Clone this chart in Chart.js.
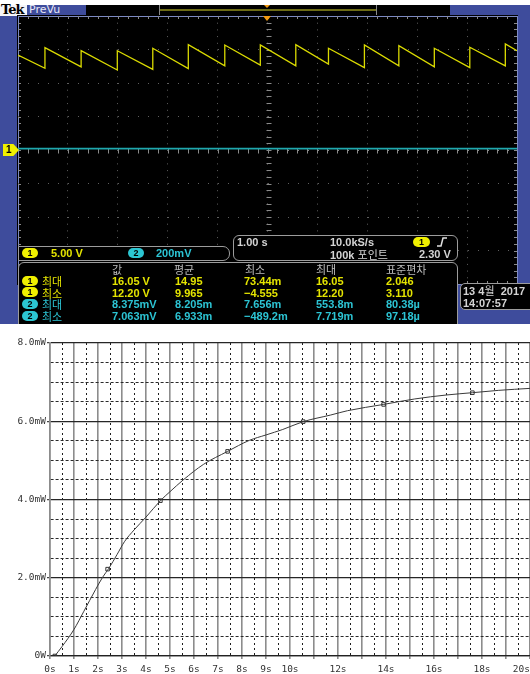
<!DOCTYPE html>
<html lang="ko">
<head>
<meta charset="UTF-8">
<meta name="viewport" content="width=device-width, initial-scale=1.0">
<title>Tek PreVu / 전력 곡선</title>
<script src="https://cdn.jsdelivr.net/npm/chart.js@4.4.1/dist/chart.umd.min.js"></script>
<style>
    body { margin: 0; background: #fff; }
    #page { position: relative; width: 530px; height: 674px; overflow: hidden; }
    #scope { position: absolute; left: 0; top: 0; width: 530px; height: 324px; overflow: hidden; background: #3e4c9c; }
    .box { position: absolute; box-sizing: border-box; }
    .frame { position: absolute; box-sizing: border-box; background: #000; border: 1px solid #9c9c9c; }
    .t { position: absolute; font: bold 11px/12px "Liberation Sans", Arial, sans-serif; white-space: pre; }
    .k { font-family: "Noto Sans CJK KR", sans-serif; font-weight: normal; }
    .y { color: #e4e400; }
    .c { color: #2cc4d4; }
    .g { color: #d4d4d4; }
    .h { color: #bdbdbd; }
    .pill { position: absolute; width: 16px; height: 10px; border-radius: 5px; color: #000; font: bold 9px/10px "Liberation Sans", sans-serif; text-align: center; }
    .py { background: #f0f000; }
    .pc { background: #2cc6d2; }
    .tri { position: absolute; width: 0; height: 0; border-left: 4px solid transparent; border-right: 4px solid transparent; border-top: 5px solid #f39a12; }
    #powerWrap { position: absolute; left: 0; top: 330px; width: 530px; height: 344px; }
</style>
</head>

<body>
<div id="page">
    <div id="scope">
        <!-- top bar -->
        <div class="box" style="left:0;top:0;width:530px;height:5px;background:#fff"></div>
        <div class="box" style="left:0;top:5px;width:27px;height:11px;background:#f4f4f8"></div>
        <div class="t" style="left:1px;top:3px;color:#000;font:bold 13px/14px 'DejaVu Serif',serif;letter-spacing:-1px">Tek</div>
        <div class="t" style="left:29px;top:3px;color:#e8e8f4;font:11px/14px 'DejaVu Sans',sans-serif">PreVu</div>
        <div class="box" style="left:86px;top:5px;width:73px;height:11px;background:#000"></div>
        <div class="box" style="left:159px;top:5px;width:218px;height:11px;background:#000;border-left:1px solid #8a8a8a;border-right:1px solid #8a8a8a"></div>
        <div class="box" style="left:160px;top:9px;width:216px;height:2px;background:#6e6c16"></div>
        <div class="box" style="left:377px;top:5px;width:73px;height:11px;background:#000"></div>
        <div class="tri" style="left:264px;top:5px;border-left-width:3px;border-right-width:3px;border-top-width:3px"></div>

        <!-- graticule -->
        <div class="box" style="left:17px;top:15px;width:501px;height:270px;background:#000">
            <canvas id="scopeCanvas" width="501" height="270"></canvas>
        </div>
        <div class="tri" style="left:263px;top:16px"></div>
        <div class="box" style="left:3px;top:144px;width:16px;height:12px;background:#f0f000;clip-path:polygon(0 0,65% 0,100% 50%,65% 100%,0 100%)"></div>
        <div class="t" style="left:6px;top:144px;color:#000;font:bold 10px/12px 'Liberation Sans',sans-serif">1</div>

        <!-- channel scale box -->
        <div class="frame" style="left:18px;top:246px;width:212px;height:15px;border-radius:0 7px 7px 0"></div>
        <div class="pill py" style="left:22px;top:248px">1</div>
        <div class="t y" style="left:51px;top:247px">5.00 V</div>
        <div class="pill pc" style="left:128px;top:248px">2</div>
        <div class="t c" style="left:156px;top:247px">200mV</div>

        <!-- timebase box -->
        <div class="frame" style="left:233px;top:235px;width:225px;height:26px;border-radius:6px"></div>
        <div class="t g" style="left:237px;top:236px">1.00 s</div>
        <div class="t g" style="left:330px;top:236px">10.0kS/s</div>
        <div class="pill py" style="left:413px;top:237px;width:17px">1</div>
        <svg class="box" style="left:437px;top:237px" width="10" height="10"><polyline points="0,9 4,9 6,1 10,1" fill="none" stroke="#e0e0e0" stroke-width="1.5"/></svg>
        <div class="t g" style="left:330px;top:248px">100k <span class="k">포인트</span></div>
        <div class="t g" style="left:419px;top:248px">2.30 V</div>

        <!-- measurement table -->
        <div class="frame" style="left:18px;top:262px;width:440px;height:80px;border-radius:6px"></div>
        <div class="t k h" style="left:112px;top:263px">값</div>
        <div class="t k h" style="left:174px;top:263px">평균</div>
        <div class="t k h" style="left:245px;top:263px">최소</div>
        <div class="t k h" style="left:316px;top:263px">최대</div>
        <div class="t k h" style="left:386px;top:263px">표준편차</div>

        <div class="pill py" style="left:22px;top:276px">1</div>
        <div class="t k y" style="left:42px;top:275px">최대</div>
        <div class="t y" style="left:112px;top:275px">16.05 V</div>
        <div class="t y" style="left:175px;top:275px">14.95</div>
        <div class="t y" style="left:244px;top:275px">73.44m</div>
        <div class="t y" style="left:316px;top:275px">16.05</div>
        <div class="t y" style="left:386px;top:275px">2.046</div>

        <div class="pill py" style="left:22px;top:287px">1</div>
        <div class="t k y" style="left:42px;top:287px">최소</div>
        <div class="t y" style="left:112px;top:287px">12.20 V</div>
        <div class="t y" style="left:175px;top:287px">9.965</div>
        <div class="t y" style="left:244px;top:287px">−4.555</div>
        <div class="t y" style="left:316px;top:287px">12.20</div>
        <div class="t y" style="left:386px;top:287px">3.110</div>

        <div class="pill pc" style="left:22px;top:299px">2</div>
        <div class="t k c" style="left:42px;top:298px">최대</div>
        <div class="t c" style="left:112px;top:298px">8.375mV</div>
        <div class="t c" style="left:175px;top:298px">8.205m</div>
        <div class="t c" style="left:244px;top:298px">7.656m</div>
        <div class="t c" style="left:316px;top:298px">553.8m</div>
        <div class="t c" style="left:386px;top:298px">80.38µ</div>

        <div class="pill pc" style="left:22px;top:311px">2</div>
        <div class="t k c" style="left:42px;top:310px">최소</div>
        <div class="t c" style="left:112px;top:310px">7.063mV</div>
        <div class="t c" style="left:175px;top:310px">6.933m</div>
        <div class="t c" style="left:244px;top:310px">−489.2m</div>
        <div class="t c" style="left:316px;top:310px">7.719m</div>
        <div class="t c" style="left:386px;top:310px">97.18µ</div>

        <!-- date box -->
        <div class="frame" style="left:460px;top:283px;width:80px;height:27px;border-radius:5px"></div>
        <div class="t g" style="left:463px;top:284px">13 4<span class="k">월</span>  2017</div>
        <div class="t g" style="left:463px;top:297px">14:07:57</div>
    </div>

    <div id="powerWrap">
        <canvas id="powerCanvas" width="530" height="344"></canvas>
    </div>
</div>

<script>
    // ---- scope trace values ----
    // channel 1 sawtooth: level at left edge, time of each fast rise,
    // the level just before the rise and just after it, level at right edge
    const ch1StartV = 14.16;
    const ch1EndV = 14.82;
    const ch1RiseT = [0.540, 1.265, 1.990, 2.701, 3.413, 4.144, 4.856, 5.567, 6.222, 6.942, 7.632, 8.343, 9.054, 9.766];
    const ch1TroughV = [12.19, 12.40, 11.94, 12.04, 12.15, 12.55, 12.66, 12.55, 12.81, 12.30, 12.55, 12.40, 12.30, 12.55];
    const ch1PeakV = [15.27, 14.82, 14.82, 15.18, 15.73, 15.67, 15.67, 15.73, 15.18, 15.67, 15.58, 15.18, 15.33, 15.84];
    const ch1VoltsPerDiv = 5;
    // channel 2 is flat
    const ch2LevelMv = 8.205;
    const ch2MvPerDiv = 200;

    // ---- power curve values (s, mW) ----
    const curveT = [0.2, 0.5, 1.0, 1.4, 1.9, 2.2, 2.45, 2.8, 3.1, 3.5, 4.0, 4.6, 5.0, 5.55, 6.4, 7.4, 8.3, 9.0, 9.7, 10.55, 11.7, 12.4, 13.9, 15.2, 16.5, 17.6, 18.7, 20];
    const curveP = [0, 0.24, 0.68, 1.13, 1.70, 2.02, 2.24, 2.60, 2.92, 3.22, 3.55, 3.97, 4.20, 4.50, 4.90, 5.23, 5.51, 5.65, 5.79, 5.99, 6.16, 6.27, 6.43, 6.57, 6.67, 6.73, 6.79, 6.84];
    const markerT = [0.2, 2.4, 4.6, 7.4, 10.55, 13.9, 17.6];
    const markerP = [0, 2.22, 3.97, 5.23, 5.99, 6.43, 6.73];
    const xLabelSecs = [0, 1, 2, 3, 4, 5, 6, 7, 8, 9, 10, 12, 14, 16, 18, 20];
    const yLabelMw = [0, 2, 4, 6, 8];

    // ---------------- scope ----------------
    const ch1Points = [{ x: 0, y: ch1StartV / ch1VoltsPerDiv }];
    ch1RiseT.forEach((t, i) => {
        ch1Points.push({ x: t, y: ch1TroughV[i] / ch1VoltsPerDiv });
        ch1Points.push({ x: t, y: ch1PeakV[i] / ch1VoltsPerDiv });
    });
    ch1Points.push({ x: 10, y: ch1EndV / ch1VoltsPerDiv });
    const ch2Points = [{ x: 0, y: ch2LevelMv / ch2MvPerDiv }, { x: 10, y: ch2LevelMv / ch2MvPerDiv }];

    // small graticule ticks along the edges and the centre cross
    const scopeMinorTicks = {
        id: 'scopeMinorTicks',
        beforeDatasetsDraw(chart) {
            const { ctx, chartArea: a, scales: { x, y } } = chart;
            const cx = Math.round(x.getPixelForValue(5)) + 0.5;
            const cy = Math.round(y.getPixelForValue(0)) + 0.5;
            ctx.save();
            ctx.strokeStyle = '#8a8a8a';
            ctx.lineWidth = 1;
            ctx.beginPath();
            for (let i = 1; i < 50; i++) {
                const px = Math.round(x.getPixelForValue(i / 5)) + 0.5;
                ctx.moveTo(px, a.top); ctx.lineTo(px, a.top + 3);
                ctx.moveTo(px, a.bottom); ctx.lineTo(px, a.bottom - 3);
                ctx.moveTo(px, cy - 2); ctx.lineTo(px, cy + 3);
            }
            for (let i = -19; i < 20; i++) {
                const py = Math.round(y.getPixelForValue(i / 5)) + 0.5;
                ctx.moveTo(a.left, py); ctx.lineTo(a.left + 3, py);
                ctx.moveTo(a.right, py); ctx.lineTo(a.right - 3, py);
                ctx.moveTo(cx - 2, py); ctx.lineTo(cx + 3, py);
            }
            ctx.stroke();
            ctx.restore();
        }
    };

    const isEdge = (c, lo, hi) => c.tick && (c.tick.value === lo || c.tick.value === hi);

    new Chart(document.getElementById('scopeCanvas'), {
        type: 'scatter',
        data: {
            datasets: [
                { data: ch2Points, showLine: true, borderColor: '#1fa8ae', borderWidth: 1.6, pointRadius: 0 },
                { data: ch1Points, showLine: true, borderColor: '#dada00', borderWidth: 1.3, pointRadius: 0 }
            ]
        },
        options: {
            responsive: false,
            animation: false,
            events: [],
            layout: { autoPadding: false, padding: 1 },
            plugins: { legend: { display: false }, tooltip: { enabled: false } },
            scales: {
                x: {
                    type: 'linear', min: 0, max: 10,
                    ticks: { display: false, stepSize: 1 },
                    grid: {
                        drawTicks: false,
                        color: c => isEdge(c, 0, 10) ? '#7c89c4' : (c.tick && c.tick.value === 5 ? '#8a8a8a' : '#5e5e5e')
                    },
                    border: { display: false, dash: c => isEdge(c, 0, 10) ? [] : [1, 5.7] }
                },
                y: {
                    type: 'linear', min: -4, max: 4,
                    ticks: { display: false, stepSize: 1 },
                    grid: {
                        drawTicks: false,
                        color: c => isEdge(c, -4, 4) ? '#7c89c4' : (c.tick && c.tick.value === 0 ? '#8a8a8a' : '#5e5e5e')
                    },
                    border: { display: false, dash: c => isEdge(c, -4, 4) ? [] : [1, 9] }
                }
            }
        },
        plugins: [scopeMinorTicks]
    });

    // ---------------- power curve ----------------
    const tickFont = { family: '"DejaVu Sans Mono", "Liberation Mono", monospace', size: 9.5 };

    new Chart(document.getElementById('powerCanvas'), {
        type: 'scatter',
        data: {
            datasets: [
                {
                    data: curveT.map((t, i) => ({ x: t, y: curveP[i] })),
                    showLine: true,
                    borderColor: '#3a3a3a',
                    borderWidth: 1,
                    pointRadius: 0,
                    cubicInterpolationMode: 'monotone'
                },
                {
                    data: markerT.map((t, i) => ({ x: t, y: markerP[i] })),
                    showLine: false,
                    pointStyle: 'rect',
                    pointRadius: 2.5,
                    borderColor: '#333',
                    borderWidth: 1,
                    backgroundColor: 'rgba(0,0,0,0)'
                }
            ]
        },
        options: {
            responsive: false,
            animation: false,
            events: [],
            layout: { autoPadding: false, padding: { top: 13, right: 0, bottom: 0, left: 0 } },
            plugins: { legend: { display: false }, tooltip: { enabled: false } },
            scales: {
                x: {
                    type: 'linear', min: 0, max: 20,
                    afterFit: s => { s.height = 18; s.paddingLeft = 0; s.paddingRight = 0; },
                    ticks: {
                        stepSize: 0.5, maxTicksLimit: 100, autoSkip: false, maxRotation: 0,
                        padding: 5, color: '#333', font: tickFont,
                        callback: v => xLabelSecs.includes(v) ? (v === 20 ? v + 's   ' : v + 's') : ''
                    },
                    grid: {
                        tickLength: 3,
                        color: c => c.tick && c.tick.value % 1 === 0 ? '#8c8c8c' : '#1e1e1e',
                        lineWidth: c => c.tick && c.tick.value % 1 === 0 ? 1.6 : 1,
                        tickColor: c => c.tick && c.tick.value % 1 === 0 ? '#8c8c8c' : 'rgba(0,0,0,0)'
                    },
                    border: { display: true, color: '#222', width: 1.2, dash: c => c.tick && c.tick.value % 1 !== 0 ? [2, 3] : [] }
                },
                y: {
                    type: 'linear', min: 0, max: 8,
                    afterFit: s => { s.width = 50; s.paddingTop = 0; s.paddingBottom = 0; },
                    ticks: {
                        stepSize: 0.5, maxTicksLimit: 100, autoSkip: false,
                        padding: 1, color: '#333', font: tickFont,
                        callback: v => v === 0 ? '0W' : (yLabelMw.includes(v) ? v.toFixed(1) + 'mW' : '')
                    },
                    grid: {
                        tickLength: 3,
                        color: c => c.tick && c.tick.value % 2 === 0 ? '#262626' : '#2a2a2a',
                        lineWidth: c => c.tick && c.tick.value % 2 === 0 ? 1.2 : 1,
                        tickColor: c => c.tick && c.tick.value % 2 === 0 ? '#444' : 'rgba(0,0,0,0)'
                    },
                    border: { display: true, color: '#8c8c8c', width: 1.6, dash: c => c.tick && c.tick.value % 2 !== 0 ? [3, 2] : [] }
                }
            }
        }
    });
</script>
</body>

</html>
